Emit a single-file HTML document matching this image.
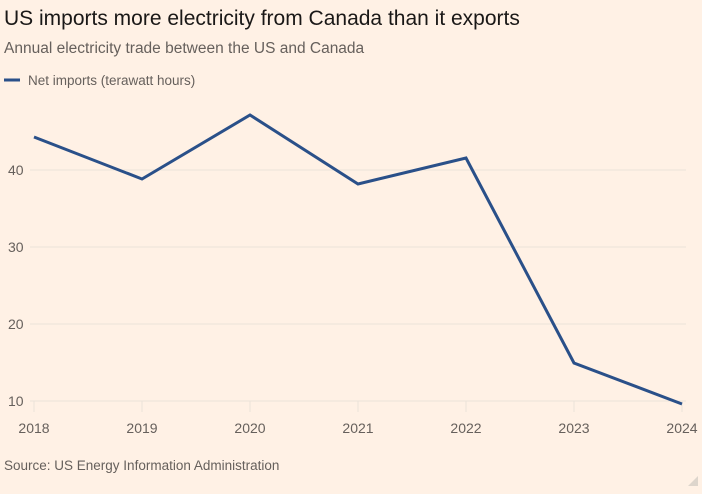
<!DOCTYPE html>
<html><head><meta charset="utf-8"><style>
html,body{margin:0;padding:0;background:#FFF1E5;}
body{width:702px;height:494px;overflow:hidden;font-family:"Liberation Sans",sans-serif;}
</style></head><body>
<svg width="702" height="494" xmlns="http://www.w3.org/2000/svg" style="display:block">
<rect width="702" height="494" fill="#FFF1E5"/>
<text x="4" y="25" font-size="21" fill="#1a1817">US imports more electricity from Canada than it exports</text>
<text x="4" y="53" font-size="15.5" fill="#66605c">Annual electricity trade between the US and Canada</text>
<line x1="4" y1="80" x2="20" y2="80" stroke="#2a5089" stroke-width="3"/>
<text x="28" y="85" font-size="13.5" fill="#66605c">Net imports (terawatt hours)</text>
<g stroke="#ebe2d9" stroke-width="1">
<line x1="30" y1="170" x2="686" y2="170"/>
<line x1="30" y1="247" x2="686" y2="247"/>
<line x1="30" y1="324" x2="686" y2="324"/>
<line x1="30" y1="401" x2="686" y2="401"/>
<line x1="34" y1="401" x2="34" y2="412"/>
<line x1="142" y1="401" x2="142" y2="412"/>
<line x1="250" y1="401" x2="250" y2="412"/>
<line x1="358" y1="401" x2="358" y2="412"/>
<line x1="466" y1="401" x2="466" y2="412"/>
<line x1="574" y1="401" x2="574" y2="412"/>
<line x1="682" y1="401" x2="682" y2="412"/>
</g>
<g font-size="14" fill="#66605c">
<text x="8" y="175">40</text>
<text x="8" y="252">30</text>
<text x="8" y="329">20</text>
<text x="8" y="406">10</text>
</g>
<g font-size="14" fill="#66605c" text-anchor="middle">
<text x="34" y="433">2018</text>
<text x="142" y="433">2019</text>
<text x="250" y="433">2020</text>
<text x="358" y="433">2021</text>
<text x="466" y="433">2022</text>
<text x="574" y="433">2023</text>
<text x="682" y="433">2024</text>
</g>
<polyline points="34,137 142,179 250,115 358,184 466,158 574,363 682,404" fill="none" stroke="#2a5089" stroke-width="3" stroke-linejoin="miter"/>
<text x="4" y="470" font-size="13.5" fill="#66605c">Source: US Energy Information Administration</text>
<polygon points="698,476 698,486 688,486" fill="#ddd5cc"/>
</svg>
</body></html>
